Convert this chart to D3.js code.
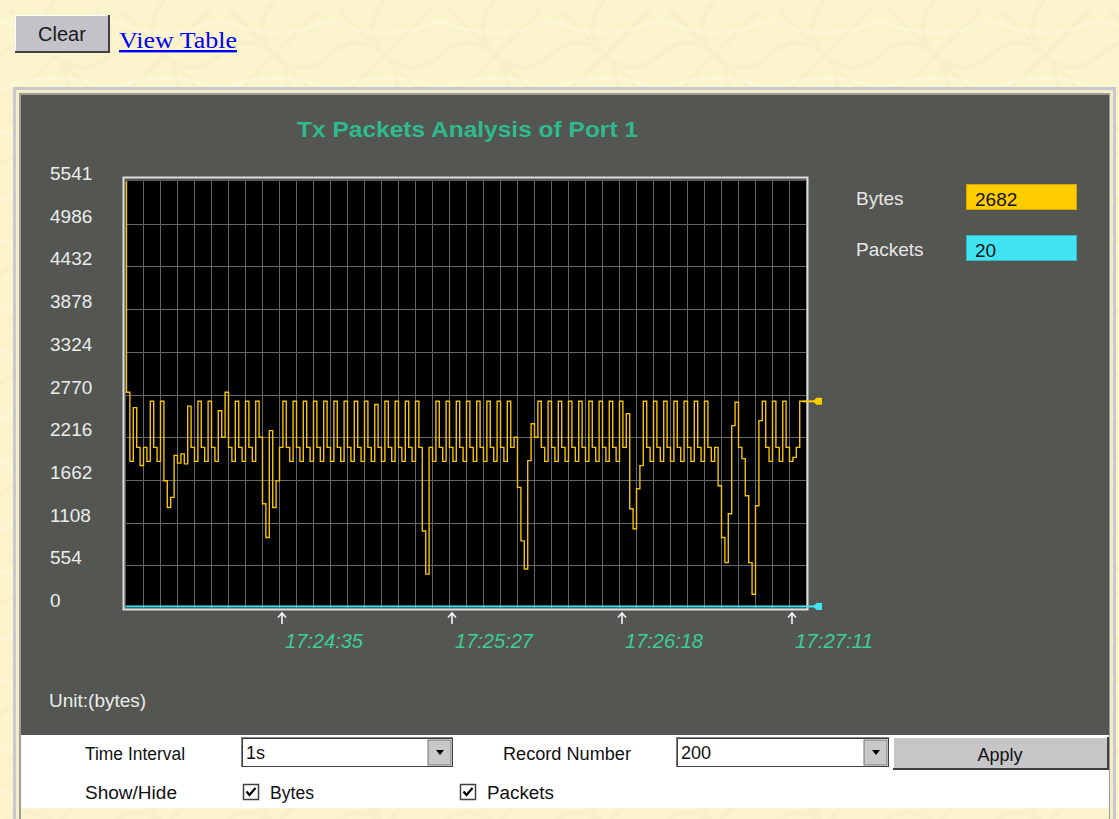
<!DOCTYPE html>
<html>
<head>
<meta charset="utf-8">
<script src="https://cdn.jsdelivr.net/npm/d3@7/dist/d3.min.js"></script>
<style>
  body { margin: 0; background: #fbf4cd; }
  svg { display: block; font-family: "Liberation Sans", Arial, sans-serif; }
</style>
</head>
<body>
<script>
// chart data
var yTicks = [0, 554, 1108, 1662, 2216, 2770, 3324, 3878, 4432, 4986, 5541];
var timeLabels = ["17:24:35", "17:25:27", "17:26:18", "17:27:11"];
var timeIndex = [46, 96, 146, 196];
var seriesNames = ["Bytes", "Packets"];
var seriesNow = [2682, 20];
var seriesColors = ["#ffcc00", "#40e4f2"];

// 200 records, bytes per second
var bytes = [
  5541, 2800, 1903, 2600, 2085, 1850, 2085, 1903, 2683, 2085,
  1903, 2683, 1652, 1305, 1435, 1980, 1880, 2000, 1870, 2620,
  2085, 1903, 2683, 2085, 1903, 2683, 2085, 1903, 2560, 2215,
  2800, 2085, 1903, 2683, 2085, 1903, 2683, 2085, 1903, 2683,
  2215, 1352, 914, 2302, 1305, 1650, 2085, 2683, 2085, 1903,
  2683, 2085, 1903, 2683, 2085, 1903, 2683, 2085, 1903, 2683,
  2085, 1903, 2683, 2085, 1903, 2683, 2085, 1903, 2683, 2085,
  1903, 2683, 2085, 1903, 2640, 2085, 1903, 2683, 2085, 1903,
  2683, 2085, 1903, 2683, 2085, 1903, 2683, 2085, 1000, 440,
  2085, 1903, 2683, 2085, 1903, 2683, 2085, 1903, 2683, 2085,
  1903, 2683, 2085, 1903, 2683, 2085, 1903, 2683, 2085, 1903,
  2683, 2085, 1903, 2683, 2085, 2215, 1565, 871, 507, 1912,
  2390, 2215, 2683, 2085, 1903, 2683, 2085, 1903, 2683, 2085,
  1903, 2683, 2085, 1903, 2683, 2085, 1903, 2683, 2085, 1903,
  2683, 2085, 1903, 2683, 2085, 1903, 2683, 2085, 2520, 1288,
  1028, 1548, 1847, 2683, 2085, 1903, 2683, 2085, 1903, 2683,
  2085, 1903, 2683, 2085, 1903, 2683, 2085, 1903, 2683, 2085,
  1903, 2683, 2085, 1903, 2085, 1587, 914, 589, 1223, 2367,
  2670, 2085, 1938, 1457, 589, 178, 1327, 2432, 2683, 2085,
  1903, 2683, 2085, 1903, 2683, 2085, 1903, 1955, 2085, 2682
];

// packets per second, flat line near the bottom
var packets = [
  30, 20, 20, 20, 20, 20, 20, 20, 20, 20, 20, 20, 20, 20, 20, 20, 20, 20, 20, 20,
  20, 20, 20, 20, 20, 20, 20, 20, 20, 20, 20, 20, 20, 20, 20, 20, 20, 20, 20, 20,
  20, 20, 20, 20, 20, 20, 20, 20, 20, 20, 20, 20, 20, 20, 20, 20, 20, 20, 20, 20,
  20, 20, 20, 20, 20, 20, 20, 20, 20, 20, 20, 20, 20, 20, 20, 20, 20, 20, 20, 20,
  20, 20, 20, 20, 20, 20, 20, 20, 20, 20, 20, 20, 20, 20, 20, 20, 20, 20, 20, 20,
  20, 20, 20, 20, 20, 20, 20, 20, 20, 20, 20, 20, 20, 20, 20, 20, 20, 20, 20, 20,
  20, 20, 20, 20, 20, 20, 20, 20, 20, 20, 20, 20, 20, 20, 20, 20, 20, 20, 20, 20,
  20, 20, 20, 20, 20, 20, 20, 20, 20, 20, 20, 20, 20, 20, 20, 20, 20, 20, 20, 20,
  20, 20, 20, 20, 20, 20, 20, 20, 20, 20, 20, 20, 20, 20, 20, 20, 20, 20, 20, 20,
  20, 20, 20, 20, 20, 20, 20, 20, 20, 20, 20, 20, 20, 20, 20, 20, 20, 20, 20, 20
];

var W = 1119, H = 819;
var plot = {left: 126, right: 806, top: 181, bottom: 608};

var svg = d3.select("body").append("svg")
    .attr("width", W)
    .attr("height", H);

// faint tiled wallpaper behind the page
var pat = svg.append("defs").append("pattern")
    .attr("id", "paper").attr("patternUnits", "userSpaceOnUse")
    .attr("width", 110).attr("height", 110);
pat.append("rect").attr("width", 110).attr("height", 110).attr("fill", "#fbf4cd");
pat.append("path")
    .attr("d", "M0,55 Q27,30 55,55 T110,55 M55,0 Q30,27 55,55 T55,110 M10,10 L100,100 M100,10 L10,100")
    .attr("fill", "none").attr("stroke", "#f5edc4").attr("stroke-width", 4).attr("opacity", 0.6);
pat.append("path")
    .attr("d", "M0,20 Q55,45 110,20 M0,90 Q55,65 110,90")
    .attr("fill", "none").attr("stroke", "#fdf8de").attr("stroke-width", 3).attr("opacity", 0.6);

// page background + panel frame
svg.append("rect").attr("width", W).attr("height", H).attr("fill", "url(#paper)");
svg.append("rect").attr("x", 13).attr("y", 87).attr("width", 1103).attr("height", 732).attr("fill", "#c9c8cf");
svg.append("rect").attr("x", 16).attr("y", 90).attr("width", 1097).attr("height", 729).attr("fill", "#f4edc9");
svg.append("rect").attr("x", 19).attr("y", 93).attr("width", 1091).attr("height", 726).attr("fill", "#9c9c98");
svg.append("rect").attr("x", 21).attr("y", 95).attr("width", 1088).attr("height", 640).attr("fill", "#545652");
svg.append("rect").attr("x", 21).attr("y", 735).attr("width", 1088).attr("height", 73).attr("fill", "#ffffff");
svg.append("rect").attr("x", 21).attr("y", 808).attr("width", 1088).attr("height", 11).attr("fill", "url(#paper)");

// Clear button + link
var btn = svg.append("g");
btn.append("rect").attr("x", 15).attr("y", 15).attr("width", 95).attr("height", 38).attr("fill", "#404040");
btn.append("rect").attr("x", 15).attr("y", 15).attr("width", 93).attr("height", 36).attr("fill", "#ffffff");
btn.append("rect").attr("x", 16).attr("y", 16).attr("width", 92).attr("height", 35).attr("fill", "#c3c2c8");
btn.append("text").attr("x", 62).attr("y", 41).attr("text-anchor", "middle")
    .attr("font-size", 20).attr("fill", "#1a1a1a").text("Clear");
svg.append("text").attr("x", 119).attr("y", 48)
    .attr("font-family", "'Liberation Serif', 'Times New Roman', serif")
    .attr("font-size", 24).attr("fill", "#0000ff")
    .attr("text-decoration", "underline")
    .attr("textLength", 118).attr("lengthAdjust", "spacingAndGlyphs")
    .text("View Table");

// scales
var x = d3.scaleLinear().domain([0, 200]).range([plot.left, plot.right]);
var y = d3.scaleLinear().domain([0, 5541]).range([plot.bottom, plot.top]);

// title
svg.append("text").attr("x", 297).attr("y", 137)
    .attr("font-size", 22).attr("font-weight", "bold").attr("fill", "#2fb98e")
    .attr("textLength", 341).attr("lengthAdjust", "spacingAndGlyphs")
    .text("Tx Packets Analysis of Port 1");

// plot frame
svg.append("rect").attr("x", plot.left - 2.5).attr("y", plot.top - 3.5)
    .attr("width", plot.right - plot.left + 4).attr("height", plot.bottom - plot.top + 5)
    .attr("fill", "none").attr("stroke", "#dcdcdc").attr("stroke-width", 2);
svg.append("rect").attr("x", plot.left).attr("y", plot.top)
    .attr("width", plot.right - plot.left).attr("height", plot.bottom - plot.top)
    .attr("fill", "#000");

// grid
var grid = svg.append("g").attr("stroke", "#676767").attr("stroke-width", 1);
grid.selectAll("line.h")
  .data(yTicks.slice(1, -1))
  .enter().append("line")
    .attr("class", "h")
    .attr("x1", plot.left).attr("x2", plot.right)
    .attr("y1", function(d) { return Math.round(y(d)) + 0.5; })
    .attr("y2", function(d) { return Math.round(y(d)) + 0.5; });
grid.selectAll("line.v")
  .data(d3.range(5, 200, 5))
  .enter().append("line")
    .attr("class", "v")
    .attr("y1", plot.top).attr("y2", plot.bottom)
    .attr("x1", function(d) { return Math.round(x(d)) + 0.5; })
    .attr("x2", function(d) { return Math.round(x(d)) + 0.5; });

// y labels (left aligned, sit just above their grid line)
svg.append("g").selectAll("text")
  .data(yTicks)
  .enter().append("text")
    .attr("x", 50)
    .attr("y", function(d) { return y(d) - 1; })
    .attr("font-size", 19).attr("fill", "#ececec")
    .text(function(d) { return d; });

// series lines
var line = d3.line()
    .x(function(d, i) { return x(i) + 0.5; })
    .y(function(d) { return y(d); })
    .curve(d3.curveStepBefore);

svg.append("path").datum(packets)
    .attr("d", line).attr("fill", "none")
    .attr("stroke", seriesColors[1]).attr("stroke-width", 2);
svg.append("path").datum(bytes)
    .attr("d", line).attr("fill", "none")
    .attr("stroke", "#f2c200").attr("stroke-width", 1.4);

// end markers on the right edge
[bytes, packets].forEach(function(s, k) {
  var yy = y(s[s.length - 1]);
  svg.append("line")
      .attr("x1", x(s.length - 1)).attr("x2", 816)
      .attr("y1", yy).attr("y2", yy)
      .attr("stroke", seriesColors[k]).attr("stroke-width", 2);
  svg.append("path")
      .attr("d", "M813," + yy + "L816.5," + (yy - 3.5) + "H822V" + (yy + 3.5) + "H816.5Z")
      .attr("fill", seriesColors[k]);
});

// time ticks: arrow + italic label
var tg = svg.append("g").selectAll("g")
  .data(timeIndex)
  .enter().append("g")
    .attr("transform", function(d) { return "translate(" + Math.round(x(d)) + ",0)"; });
tg.append("path")
    .attr("d", "M-4,617.5L0,613L4,617.5M0,613V624")
    .attr("fill", "none").attr("stroke", "#f4f4f4").attr("stroke-width", 1.6);
tg.append("text")
    .attr("x", 3).attr("y", 648)
    .attr("font-size", 20).attr("font-style", "italic").attr("fill", "#3ccf95")
    .attr("textLength", 78).attr("lengthAdjust", "spacingAndGlyphs")
    .text(function(d, i) { return timeLabels[i]; });

// legend
var lg = svg.append("g").selectAll("g")
  .data(seriesNames)
  .enter().append("g")
    .attr("transform", function(d, i) { return "translate(0," + (i * 51) + ")"; });
lg.append("text").attr("x", 856).attr("y", 205)
    .attr("font-size", 19).attr("fill", "#e6e6e6")
    .text(function(d) { return d; });
lg.append("rect").attr("x", 966.5).attr("y", 184.5).attr("width", 110).attr("height", 25)
    .attr("fill", function(d, i) { return seriesColors[i]; })
    .attr("stroke", function(d, i) { return i ? "#30b8c4" : "#d4a800"; });
lg.append("text").attr("x", 975).attr("y", 206)
    .attr("font-size", 19).attr("fill", "#111")
    .text(function(d, i) { return seriesNow[i]; });

svg.append("text").attr("x", 49).attr("y", 707)
    .attr("font-size", 19).attr("fill", "#ececec")
    .text("Unit:(bytes)");

// controls strip
function label(tx, ty, s, len) {
  svg.append("text").attr("x", tx).attr("y", ty)
      .attr("font-size", 18).attr("fill", "#111")
      .attr("textLength", len).attr("lengthAdjust", "spacingAndGlyphs")
      .text(s);
}
function select(sx, sw, val) {
  svg.append("rect").attr("x", sx).attr("y", 737).attr("width", sw).attr("height", 30).attr("fill", "#808080");
  svg.append("rect").attr("x", sx + 1).attr("y", 738).attr("width", sw - 1).attr("height", 29).attr("fill", "#404040");
  svg.append("rect").attr("x", sx + 2).attr("y", 739).attr("width", sw - 3).attr("height", 27).attr("fill", "#fff");
  svg.append("rect").attr("x", sx + sw - 25).attr("y", 740).attr("width", 23).attr("height", 25).attr("fill", "#c8c8c8")
      .attr("stroke", "#777").attr("stroke-width", 1);
  svg.append("path").attr("d", "M" + (sx + sw - 17) + ",750h8l-4,5z").attr("fill", "#000");
  svg.append("text").attr("x", sx + 5).attr("y", 759).attr("font-size", 18).attr("fill", "#111").text(val);
}
label(85, 760, "Time Interval", 100);
select(241, 212, "1s");
label(503, 760, "Record Number", 128);
select(676, 213, "200");
svg.append("rect").attr("x", 893).attr("y", 737).attr("width", 216).attr("height", 33).attr("fill", "#404040");
svg.append("rect").attr("x", 893).attr("y", 737).attr("width", 214).attr("height", 31).attr("fill", "#fff");
svg.append("rect").attr("x", 894).attr("y", 738).attr("width", 213).attr("height", 30).attr("fill", "#c6c6c8");
svg.append("text").attr("x", 1000).attr("y", 761).attr("text-anchor", "middle")
    .attr("font-size", 18).attr("fill", "#111").text("Apply");

label(85, 799, "Show/Hide", 92);
[[243, "Bytes", 44], [460, "Packets", 67]].forEach(function(c) {
  svg.append("rect").attr("x", c[0] + 0.5).attr("y", 784.5).attr("width", 15).attr("height", 15)
      .attr("fill", "#fff").attr("stroke", "#404040").attr("stroke-width", 1.5);
  svg.append("path").attr("d", "M" + (c[0] + 3.5) + ",791.5l3,3.5l6,-7")
      .attr("fill", "none").attr("stroke", "#000").attr("stroke-width", 2.2);
  label(c[0] + 27, 799, c[1], c[2]);
});
</script>
</body>
</html>
